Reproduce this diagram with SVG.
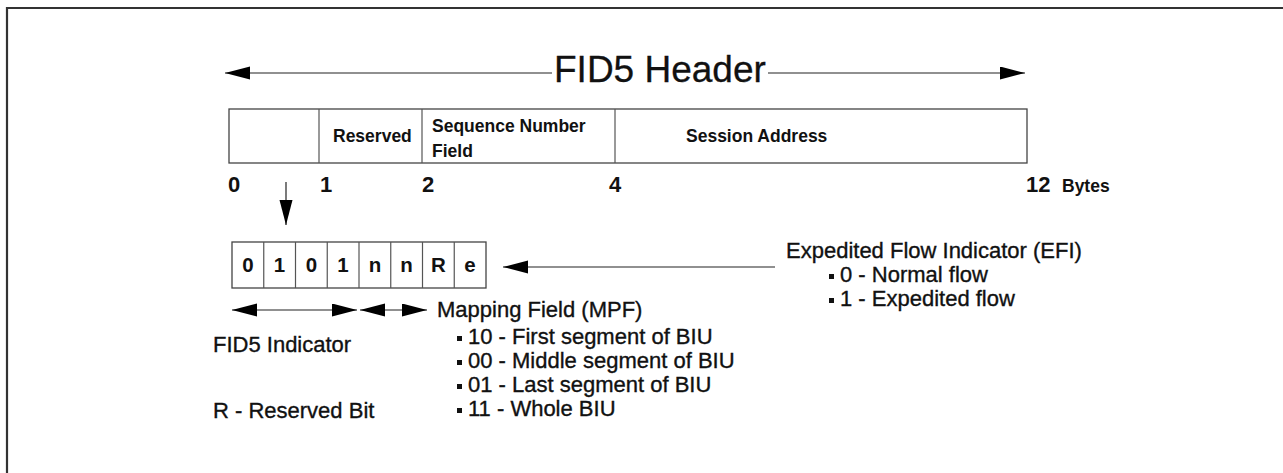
<svg xmlns="http://www.w3.org/2000/svg" width="1283" height="473" viewBox="0 0 1283 473">
  <style>
    .lbl { font-family: "Liberation Sans", Arial, sans-serif; font-weight: bold; font-size: 17.5px; fill: #111; }
    .num { font-family: "Liberation Sans", Arial, sans-serif; font-weight: bold; font-size: 22px; fill: #111; }
    .bit { font-family: "Liberation Sans", Arial, sans-serif; font-weight: bold; font-size: 20.5px; fill: #111; text-anchor: middle; }
    .txt { font-family: "Liberation Sans", Arial, sans-serif; font-size: 22px; fill: #111; stroke: #111; stroke-width: 0.35; }
    .title { font-family: "Liberation Sans", Arial, sans-serif; font-size: 37px; fill: #111; stroke: #111; stroke-width: 0.3; }
    .box { fill: #fff; stroke: #444; stroke-width: 1.3; }
    .div { stroke: #555; stroke-width: 1.2; }
    .dot { fill: #111; }
    .wire { stroke: #222; stroke-width: 1.2; fill: none; }
  </style>
  <defs>
    <marker id="head" markerUnits="userSpaceOnUse" markerWidth="26" markerHeight="14" refX="25" refY="6.5" orient="auto-start-reverse">
      <path d="M0,0 L25,6.5 L0,13 z" fill="#000"/>
    </marker>
  </defs>

  <rect width="1283" height="473" fill="#fff"/>
  <!-- page frame -->
  <path d="M7,473 V8 H1283" fill="none" stroke="#333" stroke-width="2.2"/>

  <!-- title -->
  <text class="title" x="554" y="82">FID5 Header</text>

  <!-- 12-byte header layout -->
  <g id="header-box">
    <rect class="box" x="229" y="109" width="798" height="54"/>
    <line class="div" x1="319" y1="109" x2="319" y2="163"/>
    <line class="div" x1="422" y1="109" x2="422" y2="163"/>
    <line class="div" x1="615" y1="109" x2="615" y2="163"/>
    <text class="lbl" x="333" y="142">Reserved</text>
    <text class="lbl" x="432" y="132">Sequence Number</text>
    <text class="lbl" x="432" y="157">Field</text>
    <text class="lbl" x="686" y="142">Session Address</text>
  </g>

  <!-- byte offsets -->
  <g id="byte-scale">
    <text class="num" x="228" y="192">0</text>
    <text class="num" x="320" y="192">1</text>
    <text class="num" x="422" y="192">2</text>
    <text class="num" x="609" y="192">4</text>
    <text class="num" x="1026" y="192">12</text>
    <text class="lbl" x="1062" y="192">Bytes</text>
  </g>

  <!-- first byte expanded into bits -->
  <g id="bit-box">
    <rect class="box" x="232" y="242" width="254" height="46"/>
    <line class="div" x1="263.75" y1="242" x2="263.75" y2="288"/>
    <line class="div" x1="295.5" y1="242" x2="295.5" y2="288"/>
    <line class="div" x1="327.25" y1="242" x2="327.25" y2="288"/>
    <line class="div" x1="359" y1="242" x2="359" y2="288"/>
    <line class="div" x1="390.75" y1="242" x2="390.75" y2="288"/>
    <line class="div" x1="422.5" y1="242" x2="422.5" y2="288"/>
    <line class="div" x1="454.25" y1="242" x2="454.25" y2="288"/>
    <text class="bit" x="248" y="272">0</text>
    <text class="bit" x="279.5" y="272">1</text>
    <text class="bit" x="311.5" y="272">0</text>
    <text class="bit" x="343" y="272">1</text>
    <text class="bit" x="375" y="272">n</text>
    <text class="bit" x="406.5" y="272">n</text>
    <text class="bit" x="438.5" y="272">R</text>
    <text class="bit" x="470" y="272">e</text>
  </g>

  <g id="efi-note">
    <text class="txt" x="786" y="258">Expedited Flow Indicator (EFI)</text>
    <rect class="dot" x="829" y="274" width="5" height="5"/>
    <text class="txt" x="840" y="282">0 - Normal flow</text>
    <rect class="dot" x="829" y="298" width="5" height="5"/>
    <text class="txt" x="840" y="306">1 - Expedited flow</text>
  </g>

  <g id="mpf-note">
    <text class="txt" x="437" y="317">Mapping Field (MPF)</text>
    <rect class="dot" x="457" y="336" width="5" height="5"/>
    <text class="txt" x="468" y="344">10 - First segment of BIU</text>
    <rect class="dot" x="457" y="360" width="5" height="5"/>
    <text class="txt" x="468" y="368">00 - Middle segment of BIU</text>
    <rect class="dot" x="457" y="384" width="5" height="5"/>
    <text class="txt" x="468" y="392">01 - Last segment of BIU</text>
    <rect class="dot" x="457" y="408" width="5" height="5"/>
    <text class="txt" x="468" y="416">11 - Whole BIU</text>
  </g>

  <g id="fid5-note">
    <text class="txt" x="213" y="352">FID5 Indicator</text>
  </g>
  <g id="reserved-note">
    <text class="txt" x="213" y="418">R - Reserved Bit</text>
  </g>

  <!-- connectors -->
  <g id="connectors">
    <line class="wire" x1="552" y1="73" x2="225" y2="73" marker-end="url(#head)"/>
    <line class="wire" x1="768" y1="73" x2="1025" y2="73" marker-end="url(#head)"/>
    <line class="wire" x1="286" y1="182" x2="286" y2="225" marker-end="url(#head)"/>
    <line class="wire" x1="775" y1="267" x2="503" y2="267" marker-end="url(#head)"/>
    <line class="wire" x1="232" y1="310" x2="357" y2="310" marker-start="url(#head)" marker-end="url(#head)"/>
    <line class="wire" x1="360" y1="310" x2="427" y2="310" marker-start="url(#head)" marker-end="url(#head)"/>
  </g>
</svg>
